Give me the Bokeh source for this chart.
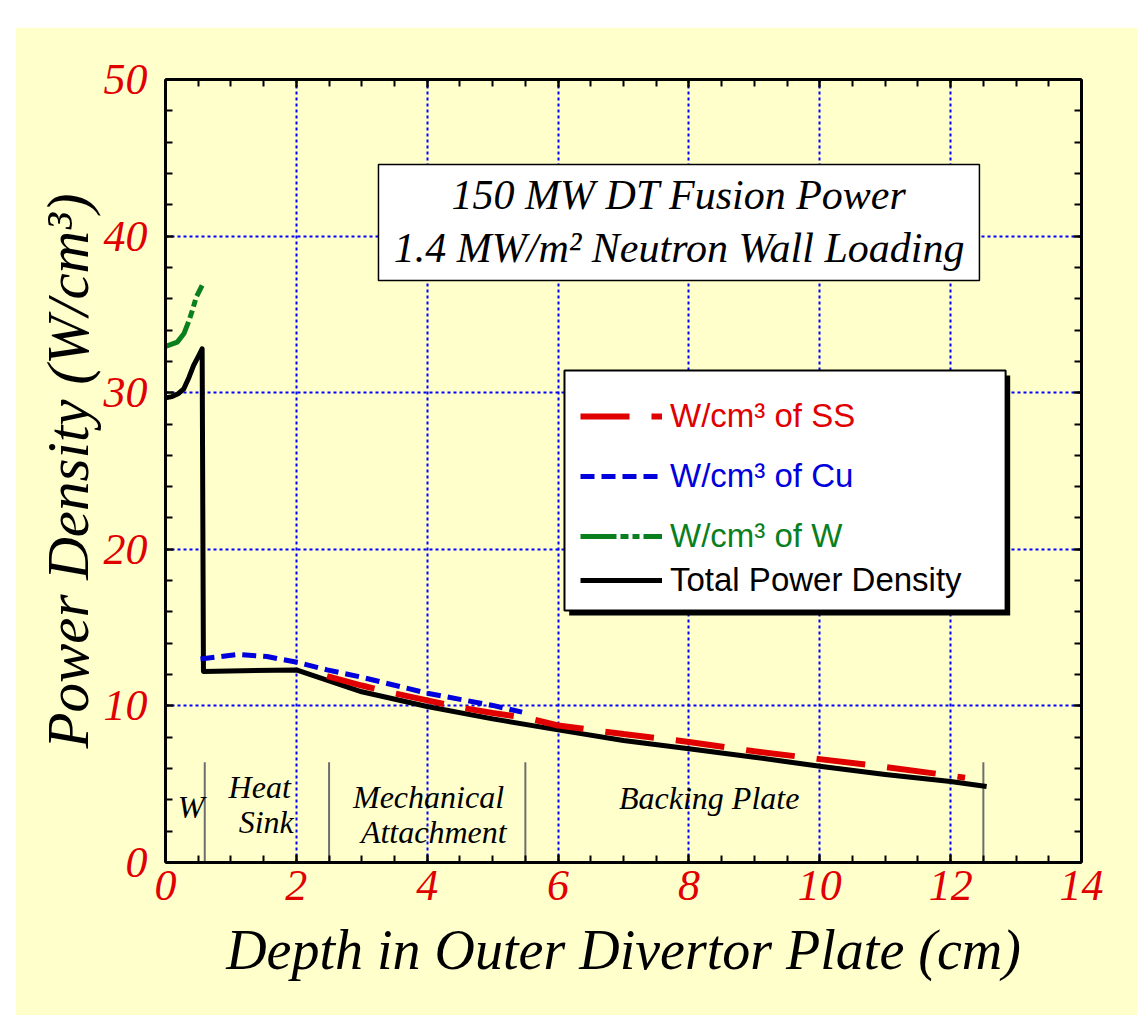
from bokeh.plotting import figure
from bokeh.models import (Range1d, SingleIntervalTicker, LinearAxis, Legend, LegendItem,
                          BoxAnnotation, Label, CustomJSTickFormatter, Grid)
from bokeh.embed import file_html
from bokeh.resources import INLINE
from bokeh.core.properties import value

# ---------------- data ----------------
total_depth = [0.0, 0.1, 0.2, 0.28, 0.36, 0.43, 0.51, 0.56, 0.58, 2.0, 2.5, 3.0, 4.0, 5.0,
               6.0, 7.0, 8.0, 9.0, 10.0, 11.0, 12.0, 12.55]
total_power = [29.67, 29.75, 29.95, 30.25, 30.99, 31.74, 32.38, 32.8, 12.2, 12.3, 11.6, 10.9, 9.96, 9.17,
               8.47, 7.79, 7.26, 6.72, 6.15, 5.62, 5.17, 4.85]

ss_depth = [2.47, 3.0, 3.5, 4.0, 4.5, 5.0, 5.5, 6.0, 7.0, 8.0, 9.0, 10.0, 11.0, 12.0, 12.22]
ss_power = [11.9, 11.3, 10.8, 10.35, 9.9, 9.55, 9.25, 8.75, 8.2, 7.7, 7.1, 6.6, 6.1, 5.55, 5.41]

cu_depth = [0.535, 1.1, 1.55, 2.01, 2.47, 3.0, 4.0, 5.0, 5.45]
cu_power = [13.0, 13.28, 13.15, 12.79, 12.3, 11.83, 10.81, 10.03, 9.6]

w_depth = [0.0, 0.18, 0.28, 0.36, 0.41, 0.47, 0.56]
w_power = [32.95, 33.23, 33.76, 34.61, 35.25, 36.1, 36.85]

region_edges = [0.6, 2.5, 5.5, 12.5]
region_edge_top = 6.4
region_texts = ["W", "Heat", "Sink", "Mechanical", "Attachment", "Backing Plate"]

legend_labels = ["W/cm\u00b3 of SS", "W/cm\u00b3 of Cu", "W/cm\u00b3 of W", "Total Power Density"]
title_lines = ["150 MW DT Fusion Power", "1.4 MW/m\u00b2 Neutron Wall Loading"]
x_label = "Depth in Outer Divertor Plate (cm)"
y_label = "Power Density (W/cm\u00b3)"

# ---------------- styles ----------------
BG = "#FFFFCC"
RED = "#E00000"
BLUE = "#0000DD"
GREEN = "#0A7F1E"
SERIF = "Liberation Serif"
SANS = "Liberation Sans"

p = figure(frame_width=916, frame_height=783,
           x_range=Range1d(0, 14), y_range=Range1d(0, 50),
           output_backend="svg", toolbar_location=None,
           min_border_left=150, min_border_right=56, min_border_top=52, min_border_bottom=153,
           background_fill_color=BG, border_fill_color=BG, outline_line_color=None,
           x_axis_type=None, y_axis_type=None)
p.margin = (27, 0, 0, 15)

xt = SingleIntervalTicker(interval=2, num_minor_ticks=4)
yt = SingleIntervalTicker(interval=10, num_minor_ticks=5)

def style_axis(ax, labels=True, label_size="56px"):
    ax.axis_line_width = 3
    ax.axis_line_color = "black"
    ax.major_tick_in = 8
    ax.major_tick_out = 0
    ax.minor_tick_in = 7
    ax.minor_tick_out = 0
    ax.major_tick_line_width = 2
    ax.minor_tick_line_width = 2
    if labels:
        ax.major_label_text_font = SERIF
        ax.major_label_text_font_style = "italic"
        ax.major_label_text_font_size = "44px"
        ax.major_label_text_color = RED
        ax.axis_label_text_font = SERIF
        ax.axis_label_text_font_style = "italic"
        ax.axis_label_text_font_size = label_size
        ax.axis_label_text_color = "black"
    else:
        ax.formatter = CustomJSTickFormatter(code="return ''")
        ax.major_label_standoff = 0

xb = LinearAxis(ticker=xt, axis_label=x_label)
style_axis(xb)
xb.major_label_standoff = 8
xb.axis_label_standoff = 16
p.add_layout(xb, "below")

yl = LinearAxis(ticker=yt, axis_label=y_label)
style_axis(yl, label_size="59px")
yl.major_label_standoff = 18
yl.axis_label_standoff = 0
p.add_layout(yl, "left")

xa = LinearAxis(ticker=xt)
style_axis(xa, labels=False)
p.add_layout(xa, "above")
yr = LinearAxis(ticker=yt)
style_axis(yr, labels=False)
p.add_layout(yr, "right")

# grid
gx = Grid(dimension=0, ticker=xt, grid_line_color="#0000FF", grid_line_width=2, grid_line_dash="3 3")
gy = Grid(dimension=1, ticker=yt, grid_line_color="#0000FF", grid_line_width=2, grid_line_dash="3 3")
p.add_layout(gx)
p.add_layout(gy)

# region separators
p.segment(x0=region_edges, y0=[0] * len(region_edges), x1=region_edges,
          y1=[region_edge_top] * len(region_edges), line_color="#6E6E6E", line_width=2)

# region labels
reg_x = [0.39, 1.44, 1.54, 4.02, 4.10, 8.31]
reg_y = [3.55, 4.85, 2.6, 4.2, 1.97, 4.12]
p.text(x=reg_x, y=reg_y, text=region_texts, text_align="center", text_baseline="alphabetic",
       text_font=value(SERIF), text_font_style="italic", text_font_size="32px", text_color="black")

# series
r_tot = p.line(total_depth, total_power, line_color="black", line_width=5, line_join="round")
r_ss = p.line(ss_depth, ss_power, line_color=RED, line_width=6, line_dash="49 22")
r_cu = p.line(cu_depth, cu_power, line_color=BLUE, line_width=5, line_dash="14 7")
r_w = p.line(w_depth, w_power, line_color=GREEN, line_width=5, line_dash="36 4 8 4 7 4")

# title box
p.add_layout(BoxAnnotation(left=3.255, right=12.44, top=44.57, bottom=37.16,
                           fill_color="white", fill_alpha=1, line_color="black",
                           line_alpha=1, line_width=1.5))
p.add_layout(Label(x=7.85, y=42.65, text=title_lines[0], text_align="center",
                   text_baseline="alphabetic", text_font=SERIF, text_font_style="italic",
                   text_font_size="42px", text_color="black"))
p.add_layout(Label(x=7.85, y=39.25, text=title_lines[1], text_align="center",
                   text_baseline="alphabetic", text_font=SERIF, text_font_style="italic",
                   text_font_size="42px", text_color="black"))

# legend box with shadow
p.add_layout(BoxAnnotation(left=6.17, right=12.91, top=31.1, bottom=15.77,
                           fill_color="black", fill_alpha=1, line_color=None))
p.add_layout(BoxAnnotation(left=6.098, right=12.84, top=31.42, bottom=16.09,
                           fill_color="white", fill_alpha=1, line_color="black",
                           line_alpha=1, line_width=2))

leg_specs = [(r_ss, legend_labels[0], RED, 424),
             (r_cu, legend_labels[1], BLUE, 364),
             (r_w, legend_labels[2], GREEN, 304),
             (r_tot, legend_labels[3], "black", 260)]
for r, lab, col, vy in leg_specs:
    leg = Legend(items=[LegendItem(label=value(lab), renderers=[r])], location=(415, vy),
                 padding=0, margin=0, spacing=0, glyph_width=82, glyph_height=44,
                 label_height=44, label_standoff=8, label_text_font=SANS,
                 label_text_font_size="33px", label_text_color=col,
                 background_fill_alpha=0, border_line_color=None)
    p.add_layout(leg, "center")

open("out.html", "w").write(file_html(p, INLINE))
